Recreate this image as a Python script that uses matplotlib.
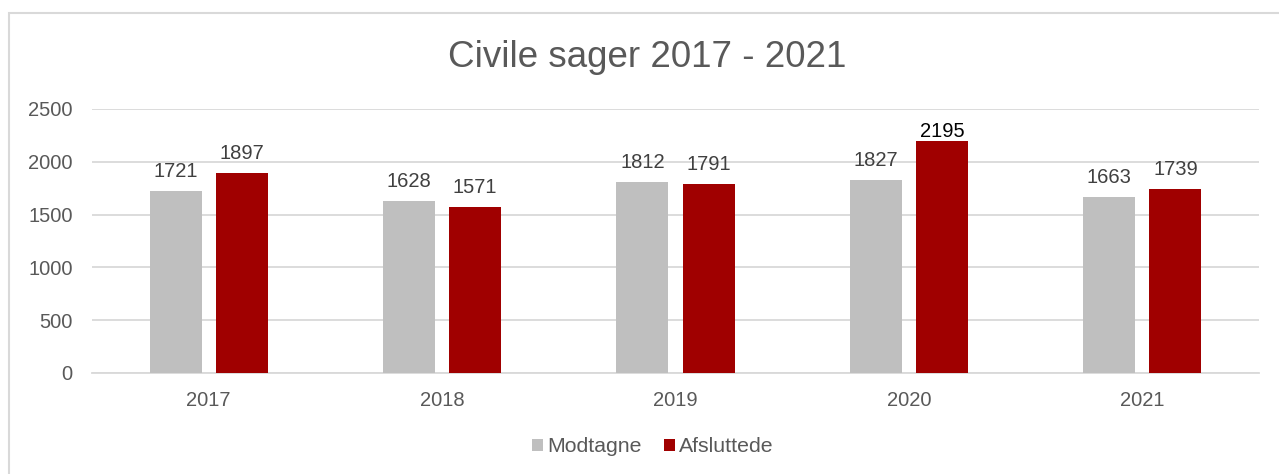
import matplotlib
matplotlib.use("Agg")
import matplotlib.pyplot as plt
import numpy as np
from matplotlib.patches import Rectangle

years = ["2017", "2018", "2019", "2020", "2021"]
modtagne = [1721, 1628, 1812, 1827, 1663]
afsluttede = [1897, 1571, 1791, 2195, 1739]
series_names = ["Modtagne", "Afsluttede"]
title = "Civile sager 2017 - 2021"

plt.rcParams['font.family'] = ['Liberation Sans', 'DejaVu Sans']

W, H = 1279, 474
fig = plt.figure(figsize=(W / 100, H / 100), dpi=100)
fig.patch.set_facecolor("white")

# outer chart frame
fig.patches.append(Rectangle((9 / W, -0.1), 1.2, 1 - 13 / H + 0.1,
                             transform=fig.transFigure, fill=False,
                             edgecolor="#d9d9d9", linewidth=1.5))

ax = fig.add_axes([92 / W, 1 - 373 / H, (1259 - 92) / W, (373 - 109) / H])
x = np.arange(len(years))
bw = 0.223
off = 0.142
gray = "#bfbfbf"
red = "#a00000"
b1 = ax.bar(x - off, modtagne, bw, color=gray, label=series_names[0], zorder=3)
b2 = ax.bar(x + off, afsluttede, bw, color=red, label=series_names[1], zorder=3)

ax.set_xlim(-0.5, len(years) - 0.5)
ax.set_ylim(0, 2500)
ax.set_yticks(np.arange(0, 2501, 500))
ax.yaxis.grid(True, color="#d9d9d9", linewidth=1.3, zorder=0)
ax.set_axisbelow(True)
for s in ["top", "right", "left"]:
    ax.spines[s].set_visible(False)
ax.spines["bottom"].set_color("#d9d9d9")
ax.spines["bottom"].set_linewidth(1.3)
ax.tick_params(axis="both", length=0, labelsize=14.5, labelcolor="#595959")
ax.tick_params(axis="y", pad=14)
ax.tick_params(axis="x", pad=13)
ax.set_xticks(x)
ax.set_xticklabels(years)

for bars, vals in ((b1, modtagne), (b2, afsluttede)):
    for r, v in zip(bars, vals):
        special = (v == 2195)
        ax.annotate(str(v), (r.get_x() + r.get_width() / 2, v),
                    xytext=(0, 3 if special else 10), textcoords="offset points",
                    ha="center", va="baseline", fontsize=14.5,
                    color="#000000" if special else "#404040")

fig.text(647 / W, 1 - 67 / H, title, ha="center", va="baseline",
         fontsize=26.5, color="#595959")

fig.legend(handles=[b1, b2], labels=series_names, loc="center",
           bbox_to_anchor=(653 / W, 1 - 447 / H), ncol=2, frameon=False,
           fontsize=15.3, labelcolor="#595959", handlelength=0.52,
           handleheight=0.52, handletextpad=0.2, columnspacing=1.05)

fig.savefig("out.png", dpi=100, facecolor="white")
